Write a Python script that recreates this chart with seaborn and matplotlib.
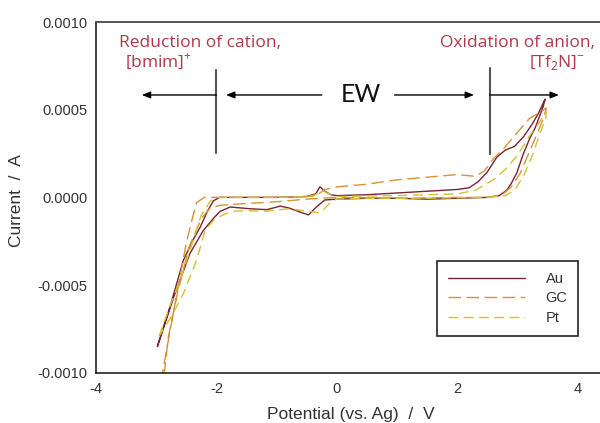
import matplotlib
matplotlib.use("Agg")
import matplotlib.pyplot as plt
import seaborn as sns
import pandas as pd

# ---- data ----
au_potential = [-2.98, -2.75, -2.55, -2.40, -2.27, -2.15, -2.05, -1.95, -1.50, -1.00, -0.50, -0.35,
                -0.28, -0.20, -0.10, 0.00, 0.50, 1.00, 1.50, 2.00, 2.20, 2.35, 2.50, 2.66, 2.80,
                2.95, 3.10, 3.25, 3.35, 3.46,
                3.43, 3.30, 3.21, 3.10, 2.99, 2.90, 2.82, 2.70, 2.50, 2.00, 1.50, 1.00, 0.50, 0.00,
                -0.20, -0.34, -0.47, -0.60, -0.80, -0.94, -1.16, -1.44, -1.77, -1.94, -2.05, -2.22,
                -2.44, -2.70, -2.98]
au_current = [-8.5e-4, -6.0e-4, -3.6e-4, -2.5e-4, -1.7e-4, -0.8e-4, -0.2e-4, 0.0, 0.0, 0.0, 0.05e-4, 0.2e-4,
              0.6e-4, 0.35e-4, 0.15e-4, 0.1e-4, 0.15e-4, 0.25e-4, 0.35e-4, 0.45e-4, 0.55e-4, 0.9e-4, 1.45e-4, 2.3e-4, 2.7e-4,
              2.9e-4, 3.45e-4, 4.2e-4, 4.8e-4, 5.6e-4,
              5.2e-4, 4.0e-4, 3.4e-4, 2.5e-4, 1.4e-4, 0.8e-4, 0.4e-4, 0.1e-4, 0.0, -0.05e-4, -0.1e-4, -0.05e-4, -0.05e-4, -0.1e-4,
              -0.15e-4, -0.55e-4, -1.0e-4, -0.85e-4, -0.6e-4, -0.5e-4, -0.7e-4, -0.65e-4, -0.55e-4, -0.8e-4, -1.2e-4, -1.9e-4,
              -3.2e-4, -5.6e-4, -8.5e-4]

gc_potential = [-2.92, -2.78, -2.64, -2.50, -2.40, -2.33, -2.20, -1.50, -1.00, -0.50, -0.30, -0.20, 0.00,
                0.50, 1.00, 1.50, 2.00, 2.30, 2.45, 2.60, 2.75, 2.90, 3.05, 3.20, 3.35, 3.48,
                3.45, 3.35, 3.20, 3.05, 2.90, 2.75, 2.50, 2.00, 1.00, 0.00, -0.50, -1.00, -1.50, -1.94,
                -2.10, -2.25, -2.45, -2.65, -2.80, -2.88]
gc_current = [-10.5e-4, -7.8e-4, -5.2e-4, -2.6e-4, -1.2e-4, -0.3e-4, 0.0, 0.0, 0.0, 0.05e-4, 0.2e-4, 0.45e-4, 0.6e-4,
              0.75e-4, 1.0e-4, 1.15e-4, 1.3e-4, 1.2e-4, 1.5e-4, 2.2e-4, 2.7e-4, 3.3e-4, 3.9e-4, 4.5e-4, 4.8e-4, 5.1e-4,
              4.7e-4, 3.8e-4, 2.6e-4, 1.4e-4, 0.6e-4, 0.15e-4, 0.0, 0.0, -0.05e-4, 0.0, -0.1e-4, -0.25e-4, -0.35e-4, -0.45e-4,
              -0.6e-4, -1.2e-4, -2.8e-4, -5.5e-4, -8.0e-4, -10.5e-4]

pt_potential = [-2.95, -2.75, -2.55, -2.40, -2.25, -2.10, -1.95, -1.00, -0.40, -0.25, -0.10, 0.00, 1.00,
                2.00, 2.30, 2.60, 2.80, 3.00, 3.20, 3.35, 3.48,
                3.47, 3.35, 3.25, 3.10, 2.95, 2.80, 2.50, 1.50, 0.50, 0.00, -0.11, -0.28, -0.45, -0.80,
                -1.20, -1.50, -1.75, -2.02, -2.19, -2.33, -2.55, -2.75, -2.95]
pt_current = [-7.9e-4, -6.0e-4, -4.2e-4, -2.6e-4, -1.0e-4, -0.2e-4, 0.0, 0.0, 0.05e-4, 0.4e-4, 0.15e-4, 0.05e-4, 0.1e-4,
              0.2e-4, 0.4e-4, 1.0e-4, 1.6e-4, 2.4e-4, 3.5e-4, 4.2e-4, 4.9e-4,
              4.5e-4, 3.4e-4, 2.4e-4, 1.2e-4, 0.4e-4, 0.1e-4, 0.0, -0.05e-4, -0.05e-4, -0.1e-4, -0.3e-4, -0.9e-4, -0.8e-4, -0.65e-4,
              -0.8e-4, -0.75e-4, -0.8e-4, -1.2e-4, -1.9e-4, -3.6e-4, -5.5e-4, -6.8e-4, -7.9e-4]

electrodes = ["Au", "GC", "Pt"]
x_ticks = [-4, -2, 0, 2, 4]
y_ticks = [-0.0010, -0.0005, 0.0, 0.0005, 0.0010]

# ---- build tidy frame ----
frames = []
for name, xs, ys in [("Au", au_potential, au_current),
                     ("GC", gc_potential, gc_current),
                     ("Pt", pt_potential, pt_current)]:
    frames.append(pd.DataFrame({"potential": xs, "current": ys, "electrode": name,
                                "order": range(len(xs))}))
df = pd.concat(frames, ignore_index=True)

sns.set_style("white")
plt.rcParams["font.family"] = ["Liberation Sans", "DejaVu Sans"]
plt.rcParams["mathtext.fontset"] = "custom"
plt.rcParams["mathtext.rm"] = "Open Sans"

fig = plt.figure(figsize=(6.0, 4.23), dpi=100)
ax_w = 8.5 * 60.2 / 600
ax = fig.add_axes([0.16, 0.1189, ax_w, 0.829])

palette = {"Au": "#7a2236", "GC": "#d89238", "Pt": "#d2c232"}
dashes = {"Au": "", "GC": (9, 4), "Pt": (7, 4)}
sns.lineplot(data=df, x="potential", y="current", hue="electrode", style="electrode",
             hue_order=electrodes, style_order=electrodes, palette=palette, dashes=dashes,
             sort=False, estimator=None, units="electrode", lw=1.0, ax=ax, legend=True)

ax.set_xlim(-4, 4.5)
ax.set_ylim(-0.0010, 0.0010)
ax.set_xticks(x_ticks)
ax.set_yticks(y_ticks)
ax.set_xticklabels([str(t) for t in x_ticks])
ax.set_yticklabels([f"{t:.4f}" for t in y_ticks])
ax.tick_params(direction="in", length=3, width=1, labelsize=10.5, colors="#333333")
ax.tick_params(axis="x", pad=7)
ax.tick_params(axis="y", pad=6)
for side in ["left", "bottom"]:
    ax.spines[side].set_color("#111111")
    ax.spines[side].set_linewidth(1.1)
ax.spines["top"].set_color("#555555")
ax.spines["top"].set_linewidth(1.4)
ax.spines["right"].set_visible(False)

ax.set_xlabel("Potential (vs. Ag)  /  V", fontsize=12.5, color="#333333", va="top")
ax.set_ylabel("Current  /  A", fontsize=12.5, color="#333333")
ax.xaxis.set_label_coords(0.498, -0.097)
ax.yaxis.set_label_coords(-0.14, 0.49)

# legend
handles, labels = ax.get_legend_handles_labels()
leg = ax.legend(handles, labels, loc="upper left", bbox_to_anchor=(437 / 600, 1 - 261 / 423),
                bbox_transform=fig.transFigure, borderaxespad=0, fontsize=10.5, handlelength=5.3,
                handletextpad=1.4, labelspacing=0.38, borderpad=0.75, frameon=True,
                fancybox=False, framealpha=1)
leg.get_frame().set_edgecolor("#222222")
leg.get_frame().set_linewidth(1.2)
for t in leg.get_texts():
    t.set_color("#333333")

# annotations
red = "#b0384a"
afont = "Open Sans"
ax.text(-3.62, 0.00088, "Reduction of cation,", color=red, fontsize=12.5, family=afont,
        ha="left", va="center")
ax.text(-3.52, 0.000775, r"[bmim]$^{+}$", color=red, fontsize=12.5, family=afont,
        ha="left", va="center")
ax.text(4.29, 0.00088, "Oxidation of anion,", color=red, fontsize=12.5, family=afont,
        ha="right", va="center")
ax.text(4.12, 0.000772, r"[Tf$_{2}$N]$^{-}$", color=red, fontsize=12.5, family=afont,
        ha="right", va="center")
ax.text(0.40, 0.000588, "EW", fontsize=18, family="Lato", ha="center", va="center",
        color="#111111")

ax.plot([-2.0, -2.0], [0.000726, 0.000253], color="#555555", lw=1.5)
ax.plot([2.54, 2.54], [0.000738, 0.000247], color="#555555", lw=1.5)
arrow_kw = dict(arrowstyle="-|>,head_length=0.5,head_width=0.2", color="black", lw=1.0,
                shrinkA=0, shrinkB=0)
y_arrow = 0.000584
for x0, x1 in [(-2.0, -3.24), (-0.25, -1.84), (0.96, 2.28), (2.54, 3.69)]:
    ax.annotate("", xy=(x1, y_arrow), xytext=(x0, y_arrow), arrowprops=arrow_kw)

fig.savefig("out.png", dpi=100)
